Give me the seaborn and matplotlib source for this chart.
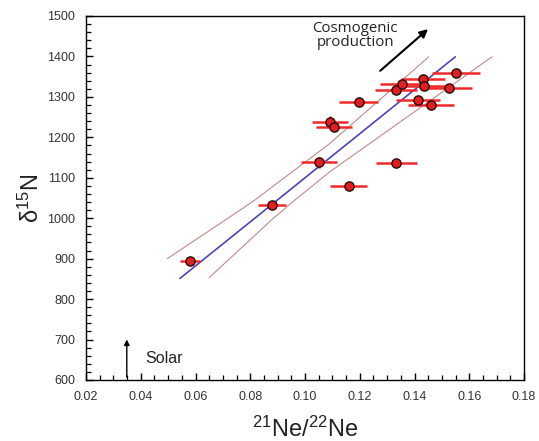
import numpy as np
import pandas as pd
import matplotlib
matplotlib.use("Agg")
import matplotlib.pyplot as plt
import seaborn as sns
from matplotlib.ticker import MultipleLocator, FormatStrFormatter

# ---- data ----
ne_ratio = [0.058, 0.088, 0.105, 0.116, 0.1334, 0.1092, 0.1107, 0.1196,
            0.1332, 0.1355, 0.1431, 0.1436, 0.1553, 0.1525, 0.1412, 0.1459]
d15n = [894, 1033, 1138, 1079, 1137, 1238, 1225, 1287,
        1316, 1332, 1344, 1327, 1360, 1323, 1292, 1281]
ne_err = [0.0037, 0.005, 0.0066, 0.0068, 0.0076, 0.0065, 0.0065, 0.007,
          0.0076, 0.008, 0.008, 0.008, 0.0088, 0.0084, 0.008, 0.0084]
d15n_err = [6, 6, 14, 6, 6, 14, 8, 6, 6, 6, 6, 6, 6, 6, 6, 6]

fit_x = [0.0543, 0.1549]
fit_y = [851, 1399]
upper_x = [0.0497, 0.0763, 0.0817, 0.1091, 0.1452]
upper_y = [900, 1020, 1045, 1185, 1399]
lower_x = [0.065, 0.0878, 0.0963, 0.1091, 0.1683]
lower_y = [853, 996, 1045, 1115, 1399]

x_ticks = [0.02, 0.04, 0.06, 0.08, 0.10, 0.12, 0.14, 0.16, 0.18]
y_ticks = [600, 700, 800, 900, 1000, 1100, 1200, 1300, 1400, 1500]

df = pd.DataFrame({"ne": ne_ratio, "d15n": d15n})

sns.set_style("ticks")
plt.rcParams["font.family"] = ["Liberation Sans", "DejaVu Sans"]

fig = plt.figure(figsize=(5.39, 4.41), dpi=100)
ax = fig.add_axes([86 / 539, 1 - 380 / 441, (524 - 86) / 539, (380 - 16) / 441])

# confidence band and fit
sns.lineplot(x=upper_x, y=upper_y, ax=ax, color="#c08a8a", lw=0.8, sort=False)
sns.lineplot(x=lower_x, y=lower_y, ax=ax, color="#c08a8a", lw=0.8, sort=False)
sns.lineplot(x=fit_x, y=fit_y, ax=ax, color="#4a44b8", lw=1.2, sort=False)

# error bars
ax.errorbar(ne_ratio, d15n, xerr=ne_err, yerr=d15n_err, fmt="none",
            ecolor="#f02a2a", elinewidth=1.8, capsize=0, zorder=3)
sns.scatterplot(data=df, x="ne", y="d15n", ax=ax, s=44, color="#e02020",
                edgecolor="#2a0a0a", linewidth=1.0, zorder=4)

ax.set_xlim(0.02, 0.18)
ax.set_ylim(600, 1500)
ax.set_xticks(x_ticks)
ax.set_yticks(y_ticks)
ax.xaxis.set_major_formatter(FormatStrFormatter("%.2f"))
ax.xaxis.set_minor_locator(MultipleLocator(0.005))
ax.yaxis.set_minor_locator(MultipleLocator(20))
ax.tick_params(which="both", direction="in", top=False, right=False,
               colors="black", labelcolor="#333333", labelsize=9)
ax.tick_params(which="major", length=5, width=1.0, pad=8)
ax.tick_params(which="minor", length=3.5, width=0.9)
for s in ax.spines.values():
    s.set_color("black")
    s.set_linewidth(1.0)

ax.set_xlabel("$\\mathregular{^{21}}$Ne/$\\mathregular{^{22}}$Ne", fontsize=17,
              color="#222222", labelpad=10)
ax.set_ylabel("δ$\\mathregular{^{15}}$N", fontsize=17, color="#222222", labelpad=2)

# annotations
ax.annotate("", xy=(0.1457, 1472), xytext=(0.1267, 1360),
            arrowprops=dict(arrowstyle="-|>", color="black", lw=1.5,
                            mutation_scale=12))
ax.text(0.1183, 1452, "Cosmogenic\nproduction", ha="center", va="center",
        fontsize=10.8, family=["Open Sans", "DejaVu Sans"], color="#222222",
        linespacing=0.92)
ax.annotate("", xy=(0.0349, 707), xytext=(0.0349, 600),
            arrowprops=dict(arrowstyle="-|>", color="black", lw=1.0,
                            mutation_scale=8))
ax.text(0.0416, 654, "Solar", ha="left", va="center", fontsize=11.5,
        color="#222222")

fig.savefig("out.png", dpi=100)
